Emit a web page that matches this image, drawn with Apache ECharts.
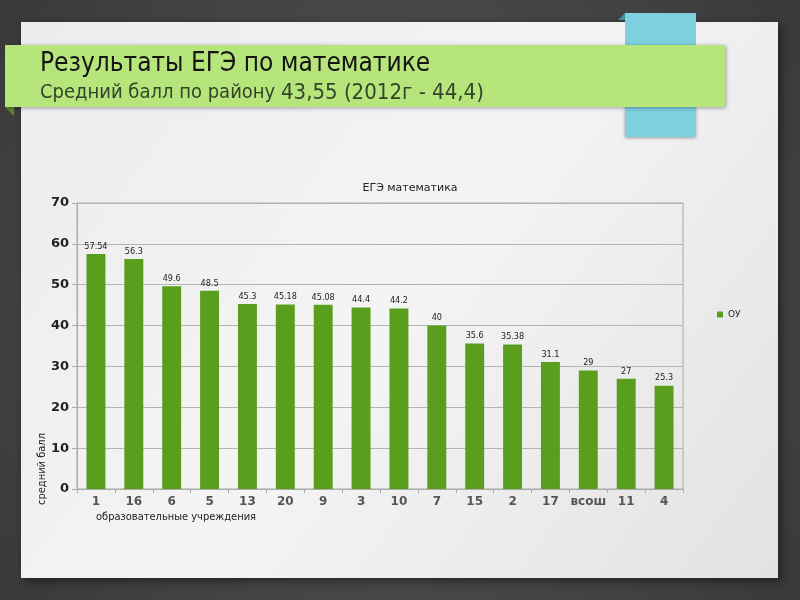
<!DOCTYPE html>
<html><head><meta charset="utf-8">
<script src="https://cdn.jsdelivr.net/npm/echarts@6/dist/echarts.min.js"></script>
<style>html,body{margin:0;padding:0;background:#444;}#c{width:800px;height:600px;}</style>
</head><body><div id="c"></div>
<script>
const categories = ['1','16','6','5','13','20','9','3','10','7','15','2','17','всош','11','4'];
const values = [57.54,56.3,49.6,48.5,45.3,45.18,45.08,44.4,44.2,40,35.6,35.38,31.1,29,27,25.3];
const yTicks = [0,10,20,30,40,50,60,70];
const seriesName = 'ОУ';

const chart = echarts.init(document.getElementById('c'));
const ZL = -1;
const NARROW = '"Liberation Sans Narrow","DejaVu Sans Condensed",sans-serif';
chart.setOption({
  animation:false,
  graphic:[
    {type:'rect',zlevel:ZL,z:1,shape:{x:0,y:0,width:800,height:600},style:{fill:{type:'radial',x:0.5,y:0.5,r:0.8,colorStops:[{offset:0,color:'#5a5a5a'},{offset:1,color:'#3a3a3a'}]}}},
    {type:'rect',zlevel:ZL,z:2,shape:{x:21,y:22,width:757,height:556},style:{fill:{type:'linear',x:0,y:0,x2:1,y2:1,colorStops:[{offset:0,color:'#ececec'},{offset:0.5,color:'#f4f4f4'},{offset:1,color:'#e2e2e2'}]},shadowBlur:10,shadowColor:'rgba(0,0,0,0.5)',shadowOffsetX:3,shadowOffsetY:3}},
    {type:'polygon',zlevel:ZL,z:3,shape:{points:[[618,20],[625,13],[625,20]]},style:{fill:'#3f8f9c'}},
    {type:'rect',zlevel:ZL,z:3,shape:{x:625,y:13,width:71,height:33},style:{fill:'#7ecfdf'}},
    {type:'rect',zlevel:ZL,z:3,shape:{x:625,y:106,width:71,height:31},style:{fill:'#7ecfdf',shadowBlur:3,shadowColor:'rgba(0,0,0,0.35)',shadowOffsetY:1}},
    {type:'polygon',zlevel:ZL,z:4,shape:{points:[[5,107],[14,107],[14,116]]},style:{fill:'#5e8a2c'}},
    {type:'rect',zlevel:ZL,z:5,shape:{x:5,y:45,width:720,height:62},style:{fill:'#b5e57b',shadowBlur:4,shadowColor:'rgba(0,0,0,0.35)',shadowOffsetX:1,shadowOffsetY:1}},
    {type:'text',zlevel:ZL,z:6,x:40,y:64,style:{text:'Результаты ЕГЭ по математике',font:'26px '+NARROW,fill:'#151515',verticalAlign:'middle'}},
    {type:'text',zlevel:ZL,z:6,x:40,y:93,style:{text:'{a|Средний балл по району }{b|43,55 (2012г - 44,4)}',verticalAlign:'middle',rich:{a:{font:'20px '+NARROW,fill:'#34432a'},b:{font:'22px '+NARROW,fill:'#34432a'}}}},
    {type:'text',z:10,x:42,y:469,rotation:Math.PI/2,style:{text:'средний балл',font:'11px "DejaVu Sans Condensed","DejaVu Sans",sans-serif',fill:'#222',align:'center',verticalAlign:'middle'}},
    {type:'text',z:10,x:176,y:517,style:{text:'образовательные учреждения',font:'11px "DejaVu Sans Condensed","DejaVu Sans",sans-serif',fill:'#222',align:'center',verticalAlign:'middle'}}
  ],
  title:{text:'ЕГЭ математика',left:405,top:178,textAlign:'center',textStyle:{fontSize:11,fontWeight:'normal',color:'#222',fontFamily:'DejaVu Sans'}},
  legend:{left:712,top:305,itemWidth:6,itemHeight:6,icon:'rect',textStyle:{fontSize:9,color:'#222',fontFamily:'DejaVu Sans'},data:[seriesName]},
  grid:{left:77,right:117,top:203,bottom:111,show:true,borderColor:'#aaa',borderWidth:1,backgroundColor:'transparent'},
  xAxis:{type:'category',data:categories,
    axisLine:{lineStyle:{color:'#aaa'}},
    axisTick:{show:true,length:4,interval:0,lineStyle:{color:'#aaa'}},
    axisLabel:{interval:0,fontSize:12,fontWeight:'bold',color:'#555',fontFamily:'DejaVu Sans',margin:7}},
  yAxis:{type:'value',min:yTicks[0],max:yTicks[yTicks.length-1],interval:10,
    axisLine:{show:true,lineStyle:{color:'#aaa'}},
    axisTick:{show:true,length:5,lineStyle:{color:'#aaa'}},
    splitLine:{lineStyle:{color:'#b4b4b4'}},
    axisLabel:{fontSize:13,fontWeight:'bold',color:'#222',fontFamily:'DejaVu Sans',margin:8}},
  series:[{name:seriesName,type:'bar',data:values,barWidth:'50%',itemStyle:{color:'#5a9e1e'},
    label:{show:true,position:'top',distance:3,fontSize:9,color:'#222',fontFamily:'DejaVu Sans Condensed'}}]
});
</script></body></html>
